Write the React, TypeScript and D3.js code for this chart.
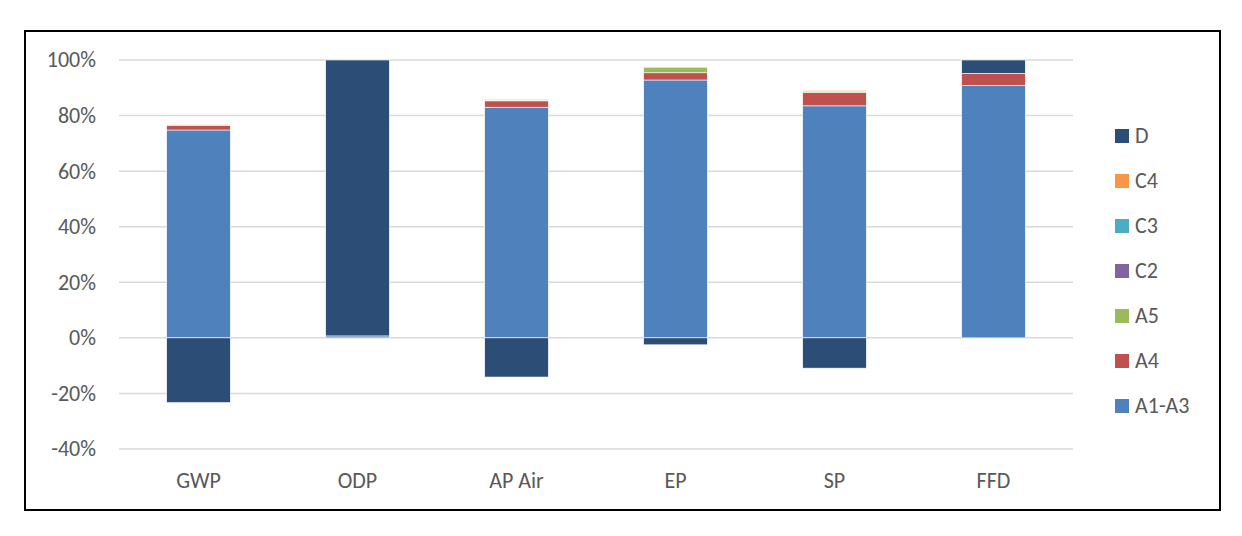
import { scaleBand, scaleLinear, stack, stackOffsetDiverging } from "d3";
import type { FC } from "react";

const categories = ["GWP", "ODP", "AP Air", "EP", "SP", "FFD"];
const seriesNames = ["A1-A3", "A4", "A5", "C2", "C3", "C4", "D"];
const seriesColors = ["#4F81BD", "#C0504D", "#9BBB59", "#8064A2", "#4BACC6", "#F79646", "#2C4D75"];

// percent values per category, in series order
const a1a3 = [74.8, 0.7, 83.0, 92.8, 83.5, 90.8];
const a4 = [1.6, 0, 2.3, 2.6, 4.9, 4.4];
const a5 = [0, 0, 0.3, 2.0, 0.3, 0];
const c2 = [0, 0, 0, 0, 0.2, 0];
const c3 = [0, 0, 0, 0, 0, 0];
const c4 = [0.3, 0, 0.3, 0, 0.3, 0];
const dVals = [-23.3, 99.3, -14.1, -2.5, -10.9, 4.8];

const yTicks = [-40, -20, 0, 20, 40, 60, 80, 100];

const font = "Carlito, Calibri, 'Open Sans', sans-serif";
const textColor = "#595959";

const App: FC = () => {
  const width = 1242;
  const height = 536;
  const plot = { left: 119, right: 1073, top: 60, bottom: 449 };

  const rows = categories.map((c, i) => ({
    cat: c,
    "A1-A3": a1a3[i],
    A4: a4[i],
    A5: a5[i],
    C2: c2[i],
    C3: c3[i],
    C4: c4[i],
    D: dVals[i],
  }));

  const stacked = stack<any>().keys(seriesNames).offset(stackOffsetDiverging)(rows);

  const x = scaleBand<string>()
    .domain(categories)
    .range([plot.left, plot.right])
    .paddingInner(0.6)
    .paddingOuter(0.3);
  const y = scaleLinear().domain([-40, 100]).range([plot.bottom, plot.top]);

  return (
    <svg
      width={width}
      height={height}
      style={{ position: "absolute", left: 0, top: 0, background: "#fff" }}
    >
      <rect x={0} y={0} width={width} height={height} fill="#fff" />
      {/* gridlines */}
      {yTicks.map((t) => (
        <g key={t}>
          <line
            x1={plot.left}
            x2={plot.right}
            y1={y(t)}
            y2={y(t)}
            stroke="#D9D9D9"
            strokeWidth={1.5}
          />
          <text
            x={96}
            y={y(t)}
            dy="0.34em"
            textAnchor="end"
            fontFamily={font}
            fontSize={22}
            fill={textColor}
          >
            {t}%
          </text>
        </g>
      ))}
      {/* bars */}
      {stacked.map((s, si) => (
        <g key={s.key} fill={seriesColors[si]}>
          {s.map((d, i) => {
            const h = Math.abs(y(d[0]) - y(d[1]));
            if (h < 0.01) return null;
            return (
              <rect
                key={i}
                x={x(categories[i])}
                y={Math.min(y(d[0]), y(d[1]))}
                width={x.bandwidth()}
                height={h}
                stroke="#fff"
                strokeWidth={0.6}
              />
            );
          })}
        </g>
      ))}
      {/* category labels */}
      {categories.map((c) => (
        <text
          key={c}
          x={(x(c) || 0) + x.bandwidth() / 2}
          y={488}
          textAnchor="middle"
          fontFamily={font}
          fontSize={22}
          fill={textColor}
        >
          {c}
        </text>
      ))}
      {/* legend */}
      {seriesNames
        .map((n, i) => ({ n, c: seriesColors[i] }))
        .reverse()
        .map((d, i) => (
          <g key={d.n} transform={`translate(1115, ${136 + i * 45})`}>
            <rect x={0} y={-7} width={14} height={14} fill={d.c} />
            <text
              x={20}
              y={0}
              dy="0.34em"
              fontFamily={font}
              fontSize={22}
              fill={textColor}
            >
              {d.n}
            </text>
          </g>
        ))}
      {/* outer border */}
      <rect x={25} y={31} width={1195} height={479} fill="none" stroke="#000" strokeWidth={2} />
    </svg>
  );
};

export default App;
